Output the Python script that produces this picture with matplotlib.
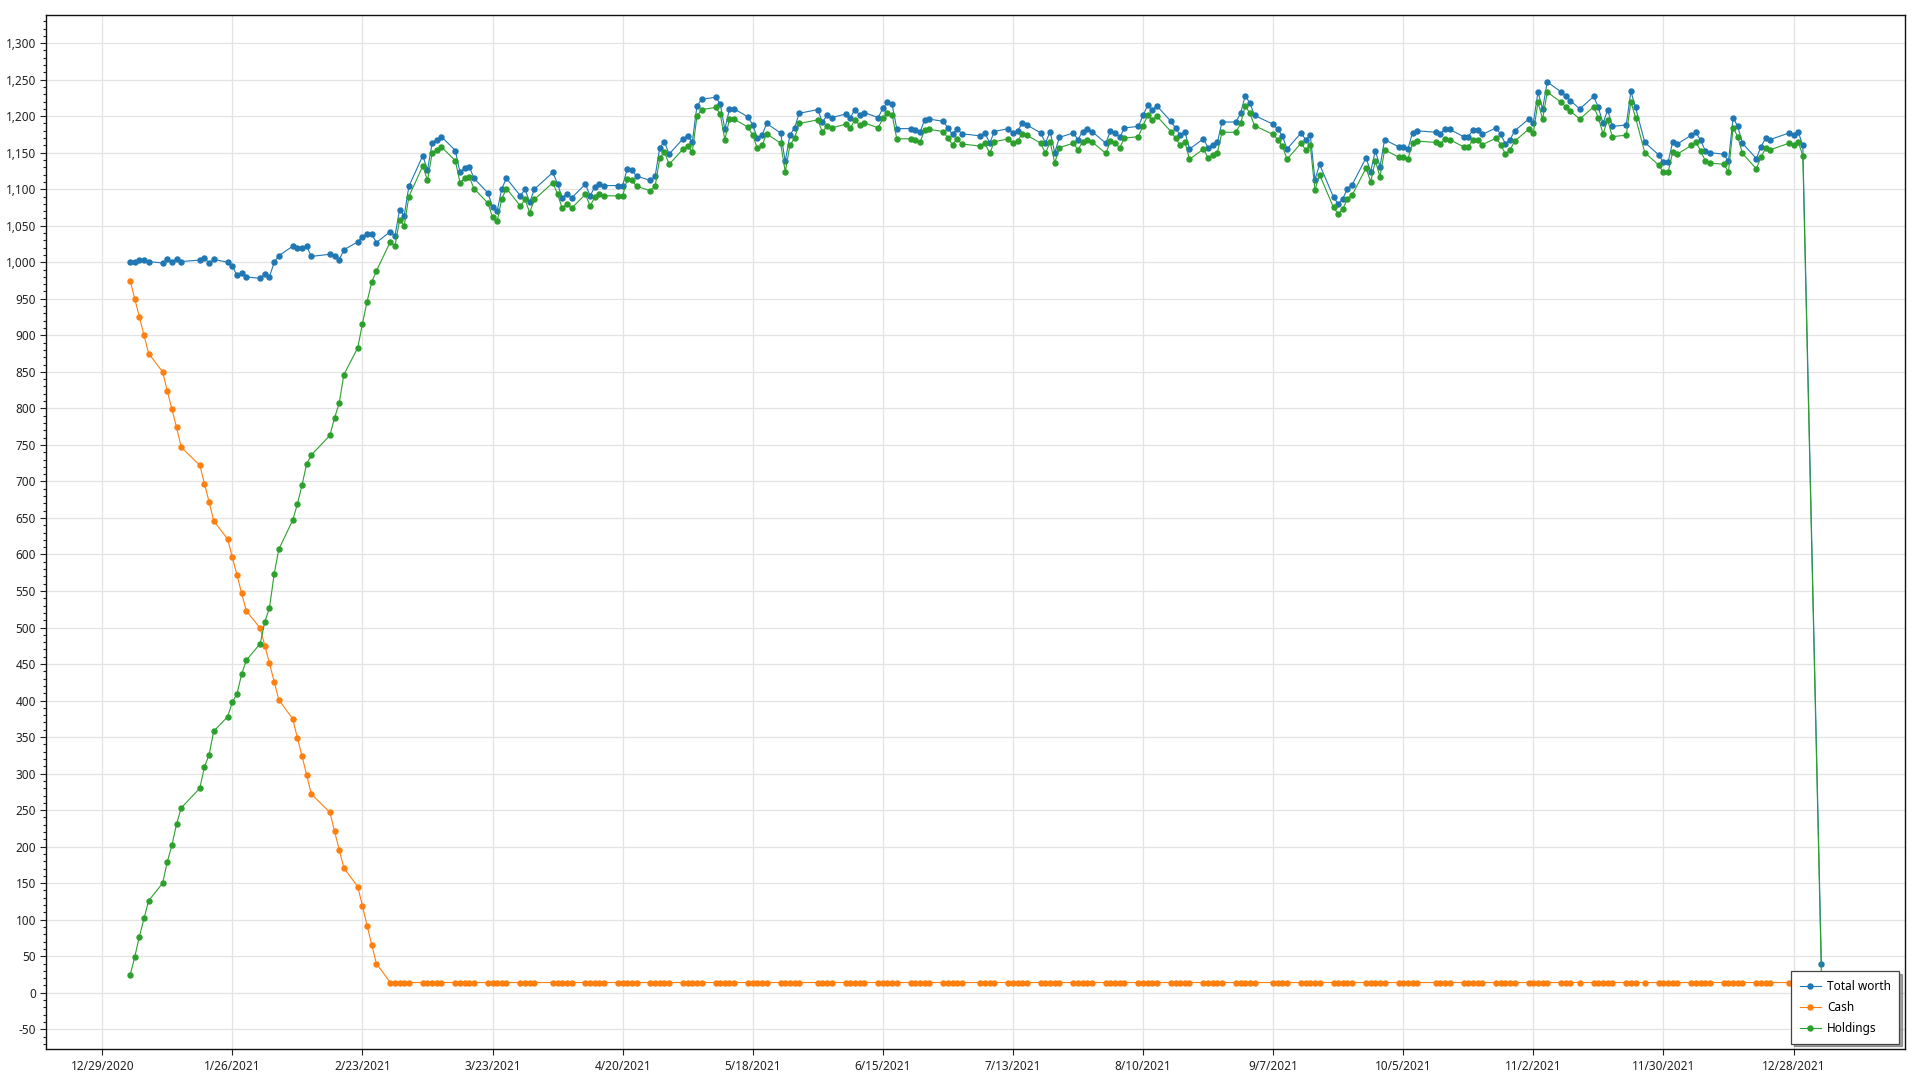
import matplotlib
matplotlib.use("Agg")
import matplotlib.pyplot as plt
import matplotlib.dates as mdates
from matplotlib.ticker import MultipleLocator, FuncFormatter
import pandas as pd

plt.rcParams['font.family'] = ['Noto Sans', 'DejaVu Sans']

# days with no data point (market / bank holidays seen as gaps)
closed_days = ["2021-01-18", "2021-02-15", "2021-04-02", "2021-05-31", "2021-07-05",
               "2021-09-06", "2021-10-11", "2021-11-11", "2021-11-25", "2021-12-24",
               "2021-12-31"]
last_day = "2022-01-03"

# total worth, month by month
total_worth = [
    # jan
    1000, 1000, 1003, 1003, 1001, 999, 1004, 1001, 1004, 1001, 1003, 1006, 999, 1004, 1000, 995, 982, 985, 980,
    # feb
    978, 984, 980, 1000, 1009, 1022, 1019, 1019, 1022, 1008, 1011, 1009, 1003, 1017, 1028, 1035, 1039, 1039, 1027,
    # mar
    1042, 1036, 1072, 1064, 1104, 1146, 1126, 1163, 1168, 1172, 1153, 1123, 1129, 1131, 1115, 1095, 1076, 1070,
    1101, 1115, 1091, 1100, 1082,
    # apr
    1100, 1123, 1107, 1088, 1094, 1088, 1107, 1091, 1103, 1107, 1105, 1105, 1105, 1128, 1126, 1118, 1112, 1118,
    1157, 1165, 1148,
    # may
    1169, 1173, 1165, 1214, 1223, 1226, 1217, 1182, 1210, 1210, 1199, 1188, 1170, 1174, 1190, 1177, 1138, 1174,
    1184, 1204,
    # jun
    1209, 1192, 1201, 1198, 1203, 1198, 1209, 1202, 1205, 1198, 1211, 1219, 1216, 1183, 1183, 1181, 1178, 1195,
    1196, 1193, 1184, 1175,
    # jul
    1183, 1176, 1173, 1177, 1163, 1179, 1183, 1177, 1180, 1190, 1188, 1177, 1163, 1179, 1150, 1171, 1177, 1168,
    1179, 1182, 1179,
    # aug
    1163, 1180, 1177, 1171, 1184, 1186, 1201, 1215, 1209, 1214, 1193, 1184, 1174, 1179, 1155, 1169, 1157, 1161,
    1164, 1192, 1192, 1204,
    # sep
    1228, 1218, 1201, 1189, 1182, 1173, 1155, 1177, 1168, 1174, 1113, 1134, 1089, 1080, 1087, 1101, 1106, 1143,
    1124, 1153, 1131,
    # oct
    1168, 1158, 1158, 1155, 1177, 1180, 1178, 1176, 1183, 1182, 1172, 1172, 1181, 1181, 1175, 1184, 1175, 1162,
    1168, 1180,
    # nov
    1196, 1191, 1233, 1210, 1247, 1233, 1227, 1221, 1210, 1227, 1212, 1190, 1209, 1186, 1188, 1234, 1212, 1164,
    1147, 1137,
    # dec
    1137, 1165, 1162, 1174, 1178, 1167, 1153, 1150, 1148, 1138, 1198, 1186, 1163, 1142, 1158, 1170, 1168, 1177,
    1174, 1179, 1160,
    # 2022
    39,
]

cash = [
    # jan
    975, 950, 925, 900, 875, 850, 824, 799, 774, 747, 722, 697, 672, 646, 621, 596, 572, 547, 523,
    # feb
    499, 475, 451, 426, 401, 375, 349, 324, 298, 272, 247, 221, 196, 171, 145, 119, 92, 66, 40,
    # mar
    14, 14, 14, 14, 14, 14, 14, 14, 14, 14, 14, 14, 14, 14, 14, 14, 14, 14, 14, 14, 14, 14, 14,
    # apr
    14, 14, 14, 14, 14, 14, 14, 14, 14, 14, 14, 14, 14, 14, 14, 14, 14, 14, 14, 14, 14,
    # may
    14, 14, 14, 14, 14, 14, 14, 14, 14, 14, 14, 14, 14, 14, 14, 14, 14, 14, 14, 14,
    # jun
    14, 14, 14, 14, 14, 14, 14, 14, 14, 14, 14, 14, 14, 14, 14, 14, 14, 14, 14, 14, 14, 14,
    # jul
    14, 14, 14, 14, 14, 14, 14, 14, 14, 14, 14, 14, 14, 14, 14, 14, 14, 14, 14, 14, 14,
    # aug
    14, 14, 14, 14, 14, 14, 14, 14, 14, 14, 14, 14, 14, 14, 14, 14, 14, 14, 14, 14, 14, 14,
    # sep
    14, 14, 14, 14, 14, 14, 14, 14, 14, 14, 14, 14, 14, 14, 14, 14, 14, 14, 14, 14, 14,
    # oct
    14, 14, 14, 14, 14, 14, 14, 14, 14, 14, 14, 14, 14, 14, 14, 14, 14, 14, 14, 14,
    # nov
    14, 14, 14, 14, 14, 14, 14, 14, 14, 14, 14, 14, 14, 14, 14, 14, 14, 14, 14, 14,
    # dec
    14, 14, 14, 14, 14, 14, 14, 14, 14, 14, 14, 14, 14, 14, 14, 14, 14, 14, 14, 14, 14,
    # 2022
    14,
]

holdings = [
    # jan
    24, 49, 77, 102, 126, 150, 179, 202, 231, 253, 280, 309, 326, 358, 378, 398, 409, 436, 455,
    # feb
    478, 508, 527, 573, 607, 647, 669, 695, 724, 736, 763, 787, 807, 846, 883, 916, 946, 973, 988,
    # mar
    1028, 1022, 1058, 1050, 1090, 1132, 1112, 1149, 1154, 1158, 1139, 1109, 1115, 1117, 1101, 1081, 1062, 1056,
    1087, 1101, 1077, 1086, 1068,
    # apr
    1086, 1109, 1093, 1074, 1080, 1074, 1093, 1077, 1089, 1093, 1091, 1091, 1091, 1114, 1112, 1104, 1098, 1104,
    1143, 1151, 1134,
    # may
    1155, 1159, 1151, 1200, 1209, 1212, 1203, 1168, 1196, 1196, 1185, 1174, 1156, 1160, 1176, 1163, 1124, 1160,
    1170, 1190,
    # jun
    1195, 1178, 1187, 1184, 1189, 1184, 1195, 1188, 1191, 1184, 1197, 1205, 1202, 1169, 1169, 1167, 1164, 1181,
    1182, 1179, 1170, 1161,
    # jul
    1169, 1162, 1159, 1163, 1149, 1165, 1169, 1163, 1166, 1176, 1174, 1163, 1149, 1165, 1136, 1157, 1163, 1154,
    1165, 1168, 1165,
    # aug
    1149, 1166, 1163, 1157, 1170, 1172, 1187, 1201, 1195, 1200, 1179, 1170, 1160, 1165, 1141, 1155, 1143, 1147,
    1150, 1178, 1178, 1190,
    # sep
    1214, 1204, 1187, 1175, 1168, 1159, 1141, 1163, 1154, 1160, 1099, 1120, 1075, 1066, 1073, 1087, 1092, 1129,
    1110, 1139, 1117,
    # oct
    1154, 1144, 1144, 1141, 1163, 1166, 1164, 1162, 1169, 1168, 1158, 1158, 1167, 1167, 1161, 1170, 1161, 1148,
    1154, 1166,
    # nov
    1182, 1177, 1219, 1196, 1233, 1219, 1213, 1207, 1196, 1213, 1198, 1176, 1195, 1172, 1174, 1220, 1198, 1150,
    1133, 1123,
    # dec
    1123, 1151, 1148, 1160, 1164, 1153, 1139, 1136, 1134, 1124, 1184, 1172, 1149, 1128, 1144, 1156, 1154, 1163,
    1160, 1165, 1146,
    # 2022
    25,
]

dates = list(pd.bdate_range("2021-01-04", "2021-12-30", freq="C", holidays=closed_days))
dates.append(pd.Timestamp(last_day))

print(len(dates), len(total_worth), len(cash), len(holdings))

fig = plt.figure(figsize=(19.2, 10.8), dpi=100)
ax = fig.add_axes([0.0242, 0.0283, 0.968, 0.958])

line_kw = dict(marker="o", markersize=3.6, linewidth=0.8)
ax.plot(dates, total_worth, color="#1f77b4", label="Total worth", **line_kw)
ax.plot(dates, cash, color="#ff7f0e", label="Cash", **line_kw)
ax.plot(dates, holdings, color="#2ca02c", label="Holdings", **line_kw)

# x axis: a tick every 4 weeks
xticks = pd.date_range("2020-12-29", periods=14, freq="28D")
ax.set_xticks(xticks)
ax.set_xticklabels([f"{t.month}/{t.day}/{t.year}" for t in xticks])
ax.set_xlim(pd.Timestamp("2020-12-17"), pd.Timestamp("2022-01-21"))

ax.set_ylim(-77.6, 1338.8)
ax.yaxis.set_major_locator(MultipleLocator(50))
ax.yaxis.set_minor_locator(MultipleLocator(10))
ax.yaxis.set_major_formatter(FuncFormatter(lambda v, p: f"{int(v):,}"))

ax.grid(True, which="major", color="#e3e3e3", linewidth=0.9)
ax.set_axisbelow(True)
ax.tick_params(axis="both", which="major", labelsize=8.5, length=4, width=0.8,
               color="#222222", labelcolor="#222222")
ax.tick_params(axis="y", which="minor", length=2.5, width=0.8, color="#222222")
for s in ax.spines.values():
    s.set_linewidth(1.0)
    s.set_color("#111111")

leg = ax.legend(loc="lower right", fontsize=8.5, frameon=True, fancybox=False, shadow=True,
                borderaxespad=0.5, handlelength=1.8, handletextpad=0.5, labelspacing=0.7,
                borderpad=0.7)
leg.get_frame().set_edgecolor("#444444")
leg.get_frame().set_linewidth(0.9)

fig.savefig("out.png", dpi=100)
